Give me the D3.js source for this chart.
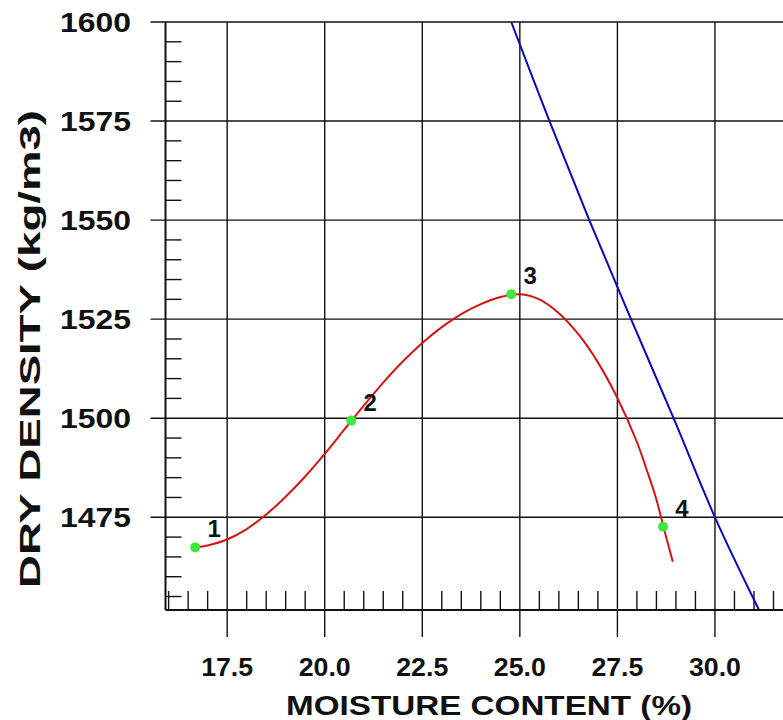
<!DOCTYPE html>
<html>
<head>
<meta charset="utf-8">
<script src="https://cdn.jsdelivr.net/npm/d3@7"></script>
<style>
  body { margin: 0; background: #fff; }
  svg { display: block; font-family: "Liberation Sans", Arial, sans-serif; font-weight: bold; }
</style>
</head>
<body>
<svg id="chart" width="783" height="720"></svg>
<script>
// test points (moisture %, dry density kg/m3)
const testLabels = ["1", "2", "3", "4"];
const testMoisture = [16.68, 20.68, 24.78, 28.67];
const testDensity = [1467.4, 1499.4, 1531.3, 1472.6];

// fitted compaction curve
const curveMoisture = [16.68, 17.0, 17.5, 18.0, 18.5, 19.0, 19.5, 20.0, 20.5, 21.0, 21.5, 22.0, 22.5, 23.0, 23.5, 24.0, 24.5, 25.0, 25.5, 26.0, 26.5, 27.0, 27.5, 28.0, 28.25, 28.5, 28.67, 28.92];
const curveDensity = [1467.4, 1467.9, 1469.4, 1472.0, 1475.7, 1480.2, 1485.3, 1491.0, 1497.1, 1503.2, 1509.0, 1514.3, 1519.0, 1523.0, 1526.3, 1528.8, 1530.6, 1531.3, 1530.0, 1526.5, 1521.2, 1514.1, 1505.1, 1494.0, 1487.0, 1479.5, 1473.0, 1463.8];

// zero air voids line
const zavMoisture = [24.78, 25.76, 26.78, 27.85, 28.94, 30.00, 31.12];
const zavDensity = [1600, 1575, 1550, 1525, 1500, 1475, 1451.8];

const xTicks = [17.5, 20.0, 22.5, 25.0, 27.5, 30.0];
const yTicks = [1475, 1500, 1525, 1550, 1575, 1600];

const svg = d3.select("#chart");
const plot = { left: 165.5, right: 793, top: 22, bottom: 610 };

const xScale = d3.scaleLinear()
  .domain([15.92, 32.0])
  .range([plot.left, plot.right]);
const yScale = d3.scaleLinear()
  .domain([1451.6, 1600])
  .range([plot.bottom, plot.top]);

// minor ticks inside the frame
const xMinor = d3.range(16.0, 32.01, 0.5).filter(v => !xTicks.includes(v));
const yMinor = d3.range(1455, 1600, 5).filter(v => !yTicks.includes(v));

const grid = svg.append("g").attr("stroke", "#111").attr("stroke-width", 1.4);

grid.selectAll(".xgrid").data(xTicks).join("line")
  .attr("x1", d => xScale(d)).attr("x2", d => xScale(d))
  .attr("y1", plot.top).attr("y2", plot.bottom + 27);

grid.selectAll(".ygrid").data(yTicks).join("line")
  .attr("x1", plot.left - 15).attr("x2", 783)
  .attr("y1", d => yScale(d)).attr("y2", d => yScale(d));

grid.selectAll(".xminor").data(xMinor).join("line")
  .attr("x1", d => xScale(d)).attr("x2", d => xScale(d))
  .attr("y1", plot.bottom).attr("y2", plot.bottom - 19);

grid.selectAll(".yminor").data(yMinor).join("line")
  .attr("x1", plot.left).attr("x2", plot.left + 16)
  .attr("y1", d => yScale(d)).attr("y2", d => yScale(d));

// axis frame lines
svg.append("line")
  .attr("x1", plot.left).attr("x2", plot.left)
  .attr("y1", plot.top).attr("y2", plot.bottom)
  .attr("stroke", "#111").attr("stroke-width", 2);
svg.append("line")
  .attr("x1", plot.left).attr("x2", 783)
  .attr("y1", plot.bottom).attr("y2", plot.bottom)
  .attr("stroke", "#111").attr("stroke-width", 2);

// tick labels
svg.append("g").selectAll("text").data(yTicks).join("text")
  .attr("x", 131).attr("y", d => yScale(d) + 9.5)
  .attr("text-anchor", "end")
  .attr("font-size", 27)
  .attr("textLength", 71).attr("lengthAdjust", "spacingAndGlyphs")
  .attr("fill", "#111")
  .text(d => d);

svg.append("g").selectAll("text").data(xTicks).join("text")
  .attr("x", d => xScale(d)).attr("y", 676)
  .attr("text-anchor", "middle")
  .attr("font-size", 26)
  .attr("textLength", 52).attr("lengthAdjust", "spacingAndGlyphs")
  .attr("fill", "#111")
  .text(d => d.toFixed(1));

// axis titles
svg.append("text")
  .attr("x", 489).attr("y", 715)
  .attr("text-anchor", "middle")
  .attr("font-size", 28)
  .attr("textLength", 406).attr("lengthAdjust", "spacingAndGlyphs")
  .attr("fill", "#111")
  .text("MOISTURE CONTENT (%)");

svg.append("text")
  .attr("transform", "translate(40, 349) rotate(-90)")
  .attr("text-anchor", "middle")
  .attr("font-size", 30)
  .attr("textLength", 478).attr("lengthAdjust", "spacingAndGlyphs")
  .attr("fill", "#111")
  .text("DRY DENSITY (kg/m3)");

// lines
const lineGen = d3.line()
  .x(d => xScale(d[0]))
  .y(d => yScale(d[1]))
  .curve(d3.curveCatmullRom.alpha(0.5));

svg.append("path")
  .datum(zavMoisture.map((m, i) => [m, zavDensity[i]]))
  .attr("fill", "none").attr("stroke", "#0808c0").attr("stroke-width", 2)
  .attr("d", lineGen);

svg.append("path")
  .datum(curveMoisture.map((m, i) => [m, curveDensity[i]]))
  .attr("fill", "none").attr("stroke", "#d41414").attr("stroke-width", 2)
  .attr("d", lineGen);

// test points and their numbers
const pts = testMoisture.map((m, i) => ({ m, d: testDensity[i], label: testLabels[i] }));

svg.append("g").selectAll("circle").data(pts).join("circle")
  .attr("cx", p => xScale(p.m)).attr("cy", p => yScale(p.d))
  .attr("r", 5).attr("fill", "#3ee83e");

svg.append("g").selectAll("text").data(pts).join("text")
  .attr("x", p => xScale(p.m) + 19).attr("y", p => yScale(p.d) - 10)
  .attr("text-anchor", "middle")
  .attr("font-size", 24)
  .attr("fill", "#111")
  .text(p => p.label);
</script>
</body>
</html>
